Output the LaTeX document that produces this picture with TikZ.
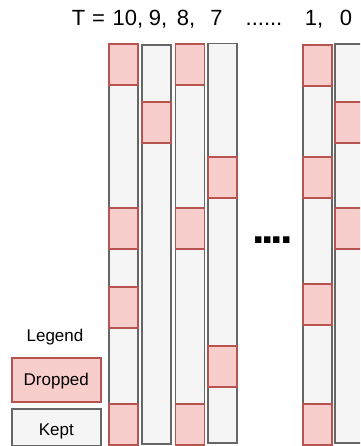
\documentclass[tikz,border=0pt]{standalone}
\usepackage{fontspec}
\setmainfont{Liberation Sans}
\definecolor{dropfill}{HTML}{F8CECC}
\definecolor{dropline}{HTML}{B85450}
\definecolor{keptfill}{HTML}{F5F5F5}
\definecolor{keptline}{HTML}{666666}
\begin{document}
\begin{tikzpicture}[x=1pt,y=-1pt,
  keptbar/.style={draw=keptline, fill=keptfill, line width=1.75pt},
  dropblock/.style={draw=dropline, fill=dropfill, line width=1.75pt},
  steplabel/.style={font=\fontsize{22}{26}\selectfont, anchor=base, inner sep=0pt},
  legendtext/.style={font=\fontsize{17}{20}\selectfont},
  legendbox/.style={minimum width=88.7pt, inner sep=0pt, text height=12.2pt, text depth=0pt, font=\fontsize{17}{20}\selectfont}]
\useasboundingbox (0,0) rectangle (360,446);
\clip (0,0) rectangle (360,446);

% time-step header
\node[steplabel] (tT)  at (78.5,26)  {T};
\node[steplabel] (tEq) at (98.5,26)  {=};
\node[steplabel] (t10) at (128,26)   {10,};
\node[steplabel] (t9)  at (158,26)   {9,};
\node[steplabel] (t8)  at (186,26)   {8,};
\node[steplabel] (t7)  at (216.5,26) {7};
\node[steplabel] (tdots) at (264,26) {......};
\node[steplabel] (t1)  at (314,26)   {1,};
\node[steplabel] (t0)  at (346,26)   {0};

% one bar per step: left x / top / bottom / tops of the dropped blocks
\foreach \xl/\top/\bot/\reds in {
    109/44/444/{44,208,287,404},
    141.7/45/444/{102},
    175.5/44/444/{44,208,404},
    208.3/43.5/443/{157,346},
    302.8/45/444/{45,157,284,404},
    335/44/443/{102,208}} {
  \draw[keptbar] (\xl,\top) rectangle ++(29,\bot-\top);
  \foreach \r in \reds
    \draw[dropblock] (\xl,\r) rectangle ++(29,41);
}

% gap between the shown steps
\node[font=\bfseries\fontsize{45}{48}\selectfont, anchor=base, inner sep=0pt] (gap) at (272.5,243.5)
  {.\hspace{-3.2pt}.\hspace{-3.2pt}.\hspace{-3.2pt}.};

% legend
\node[legendtext, anchor=base] (legend) at (55,341) {Legend};
\node[legendbox, draw=dropline, fill=dropfill, line width=1.75pt, minimum height=44pt] (dropped) at (56.3,379.7) {Dropped};
\node[legendbox, draw=keptline, fill=keptfill, line width=1.75pt, minimum height=36.5pt, text height=16pt] (kept) at (56.3,427.2) {Kept};
\end{tikzpicture}
\end{document}
